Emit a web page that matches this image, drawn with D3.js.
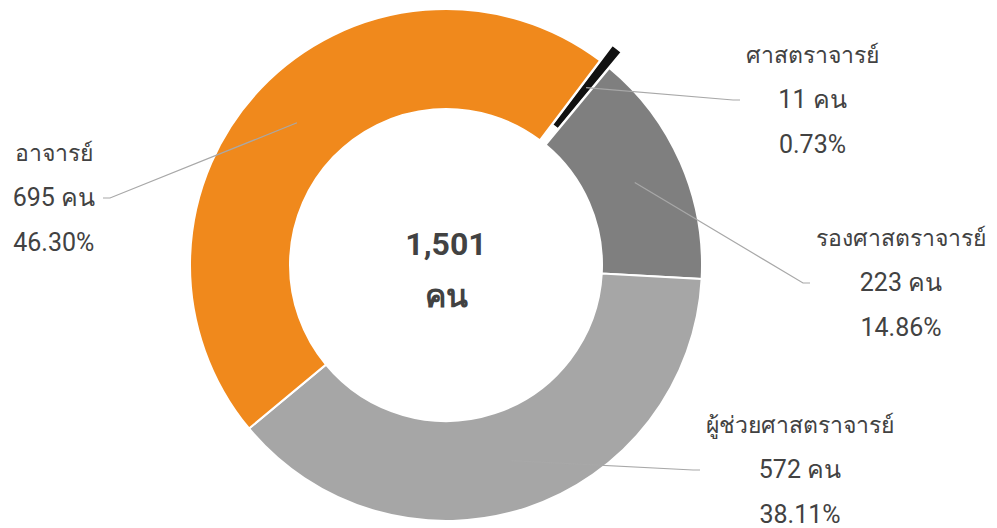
<!DOCTYPE html>
<html>
<head>
<meta charset="utf-8">
<script src="https://cdn.jsdelivr.net/npm/d3@7"></script>
<style>
  html, body { margin: 0; padding: 0; background: #fff; }
  svg { display: block; font-family: Roboto, "Noto Sans", sans-serif; }
</style>
</head>
<body>
<svg id="svg"></svg>
<script>
// Data
const categories = ["ศาสตราจารย์", "รองศาสตราจารย์", "ผู้ช่วยศาสตราจารย์", "อาจารย์"];
const counts = [11, 223, 572, 695];
const percentLabels = ["0.73%", "14.86%", "38.11%", "46.30%"];
const unitLabel = "คน";

// Styles
const palette = ["#111111", "#7f7f7f", "#a6a6a6", "#f0891c"];
const textColor = "#424242";

// Layout
const width = 997, height = 528;
const cx = 446, cy = 265;
const innerR = 156, outerR = 256;
const explodeIndex = 0, explodeBy = 20;
const startDeg = 37;
// label anchor (end of leader line) relative to the center, and which side text goes
const labelAnchors = [
    { dx: 294, dy: -165, side: "right" },
    { dx: 364, dy: 18, side: "right" },
    { dx: 254, dy: 205, side: "right" },
    { dx: -343, dy: -67, side: "left" }
];

const svg = d3.select("#svg").attr("width", width).attr("height", height);
const g = svg.append("g").attr("transform", "translate(" + cx + "," + cy + ")");

const rows = categories.map((c, i) => ({ name: c, value: counts[i], pct: percentLabels[i], i: i }));

const start = startDeg * Math.PI / 180;
const pie = d3.pie().sort(null).value(d => d.value).startAngle(start).endAngle(start + 2 * Math.PI);
const arcs = pie(rows);

const arc = d3.arc().innerRadius(innerR).outerRadius(outerR);

function offsetOf(a) {
    if (a.data.i !== explodeIndex) return [0, 0];
    const mid = (a.startAngle + a.endAngle) / 2;
    return [Math.sin(mid) * explodeBy, -Math.cos(mid) * explodeBy];
}

g.selectAll("path.slice")
    .data(arcs)
    .enter()
    .append("path")
    .attr("class", "slice")
    .attr("d", arc)
    .attr("fill", d => palette[d.data.i])
    .attr("stroke", "#fff")
    .attr("stroke-width", 2)
    .attr("transform", d => "translate(" + offsetOf(d) + ")");

// leader lines
g.selectAll("path.leader")
    .data(arcs)
    .enter()
    .append("path")
    .attr("class", "leader")
    .attr("fill", "none")
    .attr("stroke", "#a8a8a8")
    .attr("stroke-width", 1.2)
    .attr("d", d => {
        const c = arc.centroid(d);
        const o = offsetOf(d);
        const an = labelAnchors[d.data.i];
        const tail = an.side === "right" ? -7 : 7;
        return d3.line()([[c[0] + o[0], c[1] + o[1]], [an.dx + tail, an.dy], [an.dx, an.dy]]);
    });

// labels (title line is Thai, a bit smaller than the number lines)
const titleSize = 23, numSize = 25, lineGap = 45;
arcs.forEach(d => {
    const an = labelAnchors[d.data.i];
    const lines = [d.data.name, d3.format(",")(d.data.value) + " " + unitLabel, d.data.pct];
    const lg = g.append("g");
    const texts = lg.selectAll("text")
        .data(lines)
        .enter()
        .append("text")
        .attr("y", (t, k) => an.dy + 8 + (k - 1) * lineGap)
        .attr("text-anchor", "middle")
        .attr("font-size", (t, k) => k === 0 ? titleSize : numSize)
        .attr("fill", textColor)
        .text(t => t);
    let w = 0;
    texts.each(function () { w = Math.max(w, this.getComputedTextLength()); });
    const gap = an.side === "right" ? 6 : -8;
    const centerX = an.side === "right" ? an.dx + gap + w / 2 : an.dx + gap - w / 2;
    texts.attr("x", centerX);
});

// center total
const total = d3.sum(counts);
g.append("text")
    .attr("x", 0)
    .attr("y", -10)
    .attr("text-anchor", "middle")
    .attr("font-size", 32)
    .attr("font-weight", "bold")
    .attr("fill", textColor)
    .text(d3.format(",")(total));
g.append("text")
    .attr("x", 0)
    .attr("y", 42)
    .attr("text-anchor", "middle")
    .attr("font-size", 32)
    .attr("font-weight", "bold")
    .attr("fill", textColor)
    .text(unitLabel);
</script>
</body>
</html>
